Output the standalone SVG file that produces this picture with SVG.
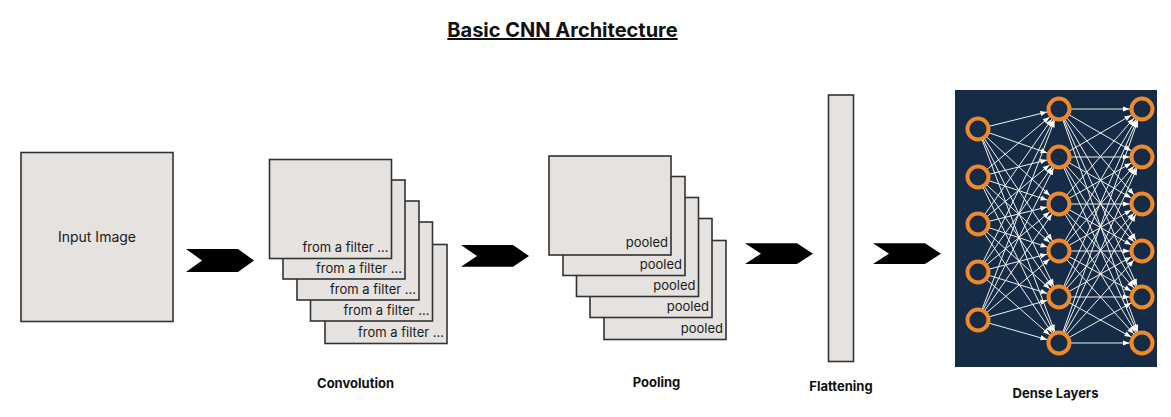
<svg xmlns="http://www.w3.org/2000/svg" width="1171" height="417" viewBox="0 0 1171 417">
<style>
.box{fill:#e5e2df;stroke:#333;stroke-width:1.6}
.lbl{font-family:Inter,"Liberation Sans",sans-serif;font-size:13px;fill:#1a1a1a;text-anchor:end}
.cap{font-family:Inter,"Liberation Sans",sans-serif;font-size:13px;font-weight:bold;fill:#111;text-anchor:middle}
.chev{fill:#000}
.edge{stroke:#f2f2f2;stroke-width:1;marker-end:url(#ah)}
.node{fill:#162b45;stroke:#f0892a;stroke-width:4}
</style>
<defs>
<marker id="ah" markerUnits="userSpaceOnUse" viewBox="0 -4 20 8" markerWidth="20" markerHeight="8" refX="20" refY="0" orient="auto">
<path d="M1,-2.6 L7.5,0 L1,2.6 z" fill="#fff"/>
</marker>
<path id="chevron" d="M0,0 L52,0 L68,11.5 L52,23 L0,23 L16,11.5 z"/>
</defs>
<rect width="1171" height="417" fill="#fff"/>
<g id="title">
<text x="562.5" y="37" font-family="Inter,'Liberation Sans',sans-serif" font-size="20" font-weight="bold" fill="#111" text-anchor="middle" text-decoration="underline">Basic CNN Architecture</text>
</g>
<g id="input-image">
<rect class="box" x="21" y="152.5" width="152" height="169"/>
<text x="97" y="242" font-family="Inter,'Liberation Sans',sans-serif" font-size="14" fill="#1a1a1a" text-anchor="middle">Input Image</text>
</g>
<g id="convolution">
<rect class="box" x="325" y="244.5" width="122" height="99"/>
<text class="lbl" x="444" y="337">from a filter ...</text>
<rect class="box" x="310.5" y="222" width="122" height="99"/>
<text class="lbl" x="429.5" y="314.5">from a filter ...</text>
<rect class="box" x="297" y="201" width="122" height="99"/>
<text class="lbl" x="416" y="293.5">from a filter ...</text>
<rect class="box" x="283" y="180" width="122" height="99"/>
<text class="lbl" x="402" y="272.5">from a filter ...</text>
<rect class="box" x="269.5" y="159.5" width="122" height="99"/>
<text class="lbl" x="388.5" y="252">from a filter ...</text>
<text class="cap" x="355.5" y="388">Convolution</text>
</g>
<g id="pooling">
<rect class="box" x="604" y="240.5" width="122" height="99"/>
<text class="lbl" x="723" y="333">pooled</text>
<rect class="box" x="590" y="218.5" width="122" height="99"/>
<text class="lbl" x="709" y="311">pooled</text>
<rect class="box" x="576.5" y="197.5" width="122" height="99"/>
<text class="lbl" x="695.5" y="290">pooled</text>
<rect class="box" x="563" y="176.5" width="122" height="99"/>
<text class="lbl" x="682" y="268.5">pooled</text>
<rect class="box" x="549" y="156" width="122" height="99"/>
<text class="lbl" x="668" y="247">pooled</text>
<text class="cap" x="656.5" y="387">Pooling</text>
</g>
<g id="flattening">
<rect class="box" x="828.5" y="95" width="25" height="266.5"/>
<text class="cap" x="841" y="391">Flattening</text>
</g>
<g id="arrows">
<use href="#chevron" class="chev" transform="translate(186,249)"/>
<use href="#chevron" class="chev" transform="translate(461,245) scale(1,0.95)"/>
<use href="#chevron" class="chev" transform="translate(745,243.3) scale(1,0.9)"/>
<use href="#chevron" class="chev" transform="translate(873,243.3) scale(1,0.9)"/>
</g>
<g id="dense-layers">
<rect x="955" y="90" width="202" height="277" fill="#162b45"/>
<g id="connectors">
<line class="edge" x1="978" y1="129" x2="1059" y2="109"/>
<line class="edge" x1="978" y1="129" x2="1059" y2="157"/>
<line class="edge" x1="978" y1="129" x2="1059" y2="204"/>
<line class="edge" x1="978" y1="129" x2="1059" y2="251"/>
<line class="edge" x1="978" y1="129" x2="1059" y2="297"/>
<line class="edge" x1="978" y1="129" x2="1059" y2="343"/>
<line class="edge" x1="978" y1="177" x2="1059" y2="109"/>
<line class="edge" x1="978" y1="177" x2="1059" y2="157"/>
<line class="edge" x1="978" y1="177" x2="1059" y2="204"/>
<line class="edge" x1="978" y1="177" x2="1059" y2="251"/>
<line class="edge" x1="978" y1="177" x2="1059" y2="297"/>
<line class="edge" x1="978" y1="177" x2="1059" y2="343"/>
<line class="edge" x1="978" y1="224" x2="1059" y2="109"/>
<line class="edge" x1="978" y1="224" x2="1059" y2="157"/>
<line class="edge" x1="978" y1="224" x2="1059" y2="204"/>
<line class="edge" x1="978" y1="224" x2="1059" y2="251"/>
<line class="edge" x1="978" y1="224" x2="1059" y2="297"/>
<line class="edge" x1="978" y1="224" x2="1059" y2="343"/>
<line class="edge" x1="978" y1="272" x2="1059" y2="109"/>
<line class="edge" x1="978" y1="272" x2="1059" y2="157"/>
<line class="edge" x1="978" y1="272" x2="1059" y2="204"/>
<line class="edge" x1="978" y1="272" x2="1059" y2="251"/>
<line class="edge" x1="978" y1="272" x2="1059" y2="297"/>
<line class="edge" x1="978" y1="272" x2="1059" y2="343"/>
<line class="edge" x1="978" y1="320" x2="1059" y2="109"/>
<line class="edge" x1="978" y1="320" x2="1059" y2="157"/>
<line class="edge" x1="978" y1="320" x2="1059" y2="204"/>
<line class="edge" x1="978" y1="320" x2="1059" y2="251"/>
<line class="edge" x1="978" y1="320" x2="1059" y2="297"/>
<line class="edge" x1="978" y1="320" x2="1059" y2="343"/>
<line class="edge" x1="1059" y1="109" x2="1142" y2="109"/>
<line class="edge" x1="1059" y1="109" x2="1142" y2="157"/>
<line class="edge" x1="1059" y1="109" x2="1142" y2="204"/>
<line class="edge" x1="1059" y1="109" x2="1142" y2="251"/>
<line class="edge" x1="1059" y1="109" x2="1142" y2="297"/>
<line class="edge" x1="1059" y1="109" x2="1142" y2="343"/>
<line class="edge" x1="1059" y1="157" x2="1142" y2="109"/>
<line class="edge" x1="1059" y1="157" x2="1142" y2="157"/>
<line class="edge" x1="1059" y1="157" x2="1142" y2="204"/>
<line class="edge" x1="1059" y1="157" x2="1142" y2="251"/>
<line class="edge" x1="1059" y1="157" x2="1142" y2="297"/>
<line class="edge" x1="1059" y1="157" x2="1142" y2="343"/>
<line class="edge" x1="1059" y1="204" x2="1142" y2="109"/>
<line class="edge" x1="1059" y1="204" x2="1142" y2="157"/>
<line class="edge" x1="1059" y1="204" x2="1142" y2="204"/>
<line class="edge" x1="1059" y1="204" x2="1142" y2="251"/>
<line class="edge" x1="1059" y1="204" x2="1142" y2="297"/>
<line class="edge" x1="1059" y1="204" x2="1142" y2="343"/>
<line class="edge" x1="1059" y1="251" x2="1142" y2="109"/>
<line class="edge" x1="1059" y1="251" x2="1142" y2="157"/>
<line class="edge" x1="1059" y1="251" x2="1142" y2="204"/>
<line class="edge" x1="1059" y1="251" x2="1142" y2="251"/>
<line class="edge" x1="1059" y1="251" x2="1142" y2="297"/>
<line class="edge" x1="1059" y1="251" x2="1142" y2="343"/>
<line class="edge" x1="1059" y1="297" x2="1142" y2="109"/>
<line class="edge" x1="1059" y1="297" x2="1142" y2="157"/>
<line class="edge" x1="1059" y1="297" x2="1142" y2="204"/>
<line class="edge" x1="1059" y1="297" x2="1142" y2="251"/>
<line class="edge" x1="1059" y1="297" x2="1142" y2="297"/>
<line class="edge" x1="1059" y1="297" x2="1142" y2="343"/>
<line class="edge" x1="1059" y1="343" x2="1142" y2="109"/>
<line class="edge" x1="1059" y1="343" x2="1142" y2="157"/>
<line class="edge" x1="1059" y1="343" x2="1142" y2="204"/>
<line class="edge" x1="1059" y1="343" x2="1142" y2="251"/>
<line class="edge" x1="1059" y1="343" x2="1142" y2="297"/>
<line class="edge" x1="1059" y1="343" x2="1142" y2="343"/>
</g>
<g id="layer-1">
<circle class="node" cx="978" cy="129" r="10.5"/>
<circle class="node" cx="978" cy="177" r="10.5"/>
<circle class="node" cx="978" cy="224" r="10.5"/>
<circle class="node" cx="978" cy="272" r="10.5"/>
<circle class="node" cx="978" cy="320" r="10.5"/>
</g>
<g id="layer-2">
<circle class="node" cx="1059" cy="109" r="10.5"/>
<circle class="node" cx="1059" cy="157" r="10.5"/>
<circle class="node" cx="1059" cy="204" r="10.5"/>
<circle class="node" cx="1059" cy="251" r="10.5"/>
<circle class="node" cx="1059" cy="297" r="10.5"/>
<circle class="node" cx="1059" cy="343" r="10.5"/>
</g>
<g id="layer-3">
<circle class="node" cx="1142" cy="109" r="10.5"/>
<circle class="node" cx="1142" cy="157" r="10.5"/>
<circle class="node" cx="1142" cy="204" r="10.5"/>
<circle class="node" cx="1142" cy="251" r="10.5"/>
<circle class="node" cx="1142" cy="297" r="10.5"/>
<circle class="node" cx="1142" cy="343" r="10.5"/>
</g>
<text class="cap" x="1055.5" y="398">Dense Layers</text>
</g>
</svg>
